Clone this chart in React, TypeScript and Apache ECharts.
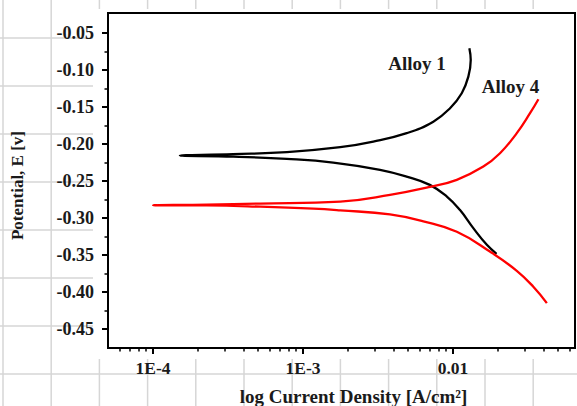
import React, { useEffect, useRef } from 'react';
import * as echarts from 'echarts';

// Alloy 1 polarization curve (cathodic end -> Ecorr tip -> anodic end)
const alloy1Current = [
  0.0195, 0.0168, 0.01365, 0.0111, 0.0091, 0.007, 0.0049, 0.00326, 0.00159,
  0.00078, 0.000343, 0.000151, 0.000341, 0.00078, 0.00177, 0.00294, 0.00491,
  0.00739, 0.00955, 0.01143, 0.01265, 0.01312, 0.01285,
];
const alloy1Potential = [
  -0.3486, -0.3365, -0.3139, -0.2892, -0.2712, -0.2554, -0.2442, -0.2351, -0.2253,
  -0.2203, -0.2172, -0.2158, -0.2139, -0.2112, -0.2045, -0.1969, -0.1855,
  -0.1699, -0.1518, -0.1315, -0.1091, -0.0865, -0.0707,
];

// Alloy 4 polarization curve
const alloy4Current = [
  0.0422, 0.0343, 0.0266, 0.0177, 0.0106, 0.00634, 0.0038, 0.00177, 0.00117, 0.000517,
  0.000228, 0.0001, 0.000228, 0.000517, 0.00177, 0.0038, 0.00703, 0.01059, 0.01592,
  0.02056, 0.02661, 0.0326, 0.03707,
];
const alloy4Potential = [
  -0.4153, -0.3932, -0.3716, -0.3459, -0.3189, -0.3047, -0.2953, -0.2899, -0.2876, -0.2849,
  -0.2832, -0.2829, -0.282, -0.2807, -0.278, -0.2689, -0.2581, -0.2486, -0.2307,
  -0.2126, -0.1855, -0.1585, -0.1396,
];

const seriesNames = ['Alloy 1', 'Alloy 4'];

const xMajorTicks = [1e-4, 1e-3, 1e-2];
const xTickLabels = ['1E-4', '1E-3', '0.01'];
const xMinorTicks = [
  6e-5, 7e-5, 8e-5, 9e-5,
  2e-4, 3e-4, 4e-4, 5e-4, 6e-4, 7e-4, 8e-4, 9e-4,
  2e-3, 3e-3, 4e-3, 5e-3, 6e-3, 7e-3, 8e-3, 9e-3,
  2e-2, 3e-2, 4e-2, 5e-2, 6e-2,
];
const yMajorTicks = [-0.45, -0.4, -0.35, -0.3, -0.25, -0.2, -0.15, -0.1, -0.05];
const yMinorTicks = [-0.425, -0.375, -0.325, -0.275, -0.225, -0.175, -0.125, -0.075];

const xTitle = 'log Current Density [A/cm²]';
const yTitle = 'Potential, E [v]';

const FONT = '"Liberation Serif", "Times New Roman", serif';
const TEXT_COLOR = '#1a1a1a';

function buildBackground() {
  const els: any[] = [];
  for (let k = 0; k < 12; k++) {
    const x = 3 + 48.2 * k;
    els.push({
      type: 'line', z: -20, silent: true,
      shape: { x1: x, y1: 0, x2: x, y2: 406 },
      style: { stroke: '#d6d6d6', lineWidth: 1.5 },
    });
  }
  for (let k = 0; k < 8; k++) {
    const y = 38 + 48 * k;
    els.push({
      type: 'line', z: -20, silent: true,
      shape: { x1: 0, y1: y, x2: 577, y2: y },
      style: { stroke: '#d6d6d6', lineWidth: 1.5 },
    });
  }
  els.push({
    type: 'rect', z: -10, silent: true,
    shape: { x: 93, y: 9, width: 484, height: 350 },
    style: { fill: '#ffffff' },
  });
  return els;
}

export default function App() {
  const ref = useRef<HTMLDivElement>(null);

  useEffect(() => {
    if (!ref.current) return;
    const chart = echarts.init(ref.current, null, { renderer: 'svg' });
    const xMin = Math.pow(10, -4.3);
    const xMax = Math.pow(10, -1.187);

    const xLabel = (v: number) => {
      for (let i = 0; i < xMajorTicks.length; i++) {
        if (Math.abs(Math.log10(v) - Math.log10(xMajorTicks[i])) < 1e-6) return xTickLabels[i];
      }
      return '';
    };

    const labelStyle = {
      fontFamily: FONT,
      fontWeight: 'bold' as const,
      color: TEXT_COLOR,
    };

    const option: any = {
      animation: false,
      backgroundColor: 'transparent',
      grid: {
        left: 108, right: 2, top: 13, bottom: 58,
        show: true, borderColor: '#000', borderWidth: 2,
        backgroundColor: 'transparent',
      },
      xAxis: [
        {
          type: 'log',
          min: xMin, max: xMax,
          position: 'bottom',
          axisLine: { show: true, lineStyle: { color: '#000', width: 2 } },
          axisTick: { show: true, inside: false, length: 6, customValues: xMajorTicks, lineStyle: { color: '#000', width: 2 } },
          axisLabel: { ...labelStyle, fontSize: 17.5, margin: 11, customValues: xMajorTicks, formatter: xLabel },
          splitLine: { show: false },
          minorTick: { show: false },
        },
        {
          type: 'log',
          min: xMin, max: xMax,
          position: 'bottom',
          axisLine: { show: false },
          axisTick: { show: true, inside: false, length: 3.5, customValues: xMinorTicks, lineStyle: { color: '#000', width: 1.5 } },
          axisLabel: { show: false },
          splitLine: { show: false },
        },
      ],
      yAxis: [
        {
          type: 'value',
          min: -0.476, max: -0.023,
          axisLine: { show: true, lineStyle: { color: '#000', width: 2 } },
          axisTick: { show: true, inside: false, length: 6, customValues: yMajorTicks, lineStyle: { color: '#000', width: 2 } },
          axisLabel: { ...labelStyle, fontSize: 18, margin: 14, customValues: yMajorTicks, formatter: (v: number) => v.toFixed(2) },
          splitLine: { show: false },
        },
        {
          type: 'value',
          min: -0.476, max: -0.023,
          position: 'left',
          axisLine: { show: false },
          axisTick: { show: true, inside: false, length: 3.5, customValues: yMinorTicks, lineStyle: { color: '#000', width: 1.5 } },
          axisLabel: { show: false },
          splitLine: { show: false },
        },
      ],
      series: [
        {
          name: seriesNames[0],
          type: 'line',
          xAxisIndex: 0, yAxisIndex: 0,
          data: alloy1Current.map((c, i) => [c, alloy1Potential[i]]),
          showSymbol: false,
          smooth: 0.45,
          lineStyle: { color: '#000000', width: 2.3 },
          itemStyle: { color: '#000000' },
        },
        {
          name: seriesNames[1],
          type: 'line',
          xAxisIndex: 0, yAxisIndex: 0,
          data: alloy4Current.map((c, i) => [c, alloy4Potential[i]]),
          showSymbol: false,
          smooth: 0.45,
          lineStyle: { color: '#ff0000', width: 2.3 },
          itemStyle: { color: '#ff0000' },
        },
      ],
      graphic: [
        ...buildBackground(),
        {
          type: 'text', x: 353.5, y: 396,
          style: { text: xTitle, font: `bold 19px ${FONT}`, fill: TEXT_COLOR, textAlign: 'center', textVerticalAlign: 'middle' },
        },
        {
          type: 'text', x: 17.5, y: 185.5, rotation: Math.PI / 2,
          style: { text: yTitle, font: `bold 17px ${FONT}`, fill: TEXT_COLOR, textAlign: 'center', textVerticalAlign: 'middle' },
        },
        {
          type: 'text', x: 417, y: 63.6,
          style: { text: seriesNames[0], font: `bold 19px ${FONT}`, fill: TEXT_COLOR, textAlign: 'center', textVerticalAlign: 'middle' },
        },
        {
          type: 'text', x: 510.5, y: 86.3,
          style: { text: seriesNames[1], font: `bold 19px ${FONT}`, fill: TEXT_COLOR, textAlign: 'center', textVerticalAlign: 'middle' },
        },
      ],
    };
    chart.setOption(option);
    return () => chart.dispose();
  }, []);

  return (
    <div
      ref={ref}
      style={{ position: 'absolute', left: 0, top: 0, width: 577, height: 406, background: '#ffffff' }}
    />
  );
}
